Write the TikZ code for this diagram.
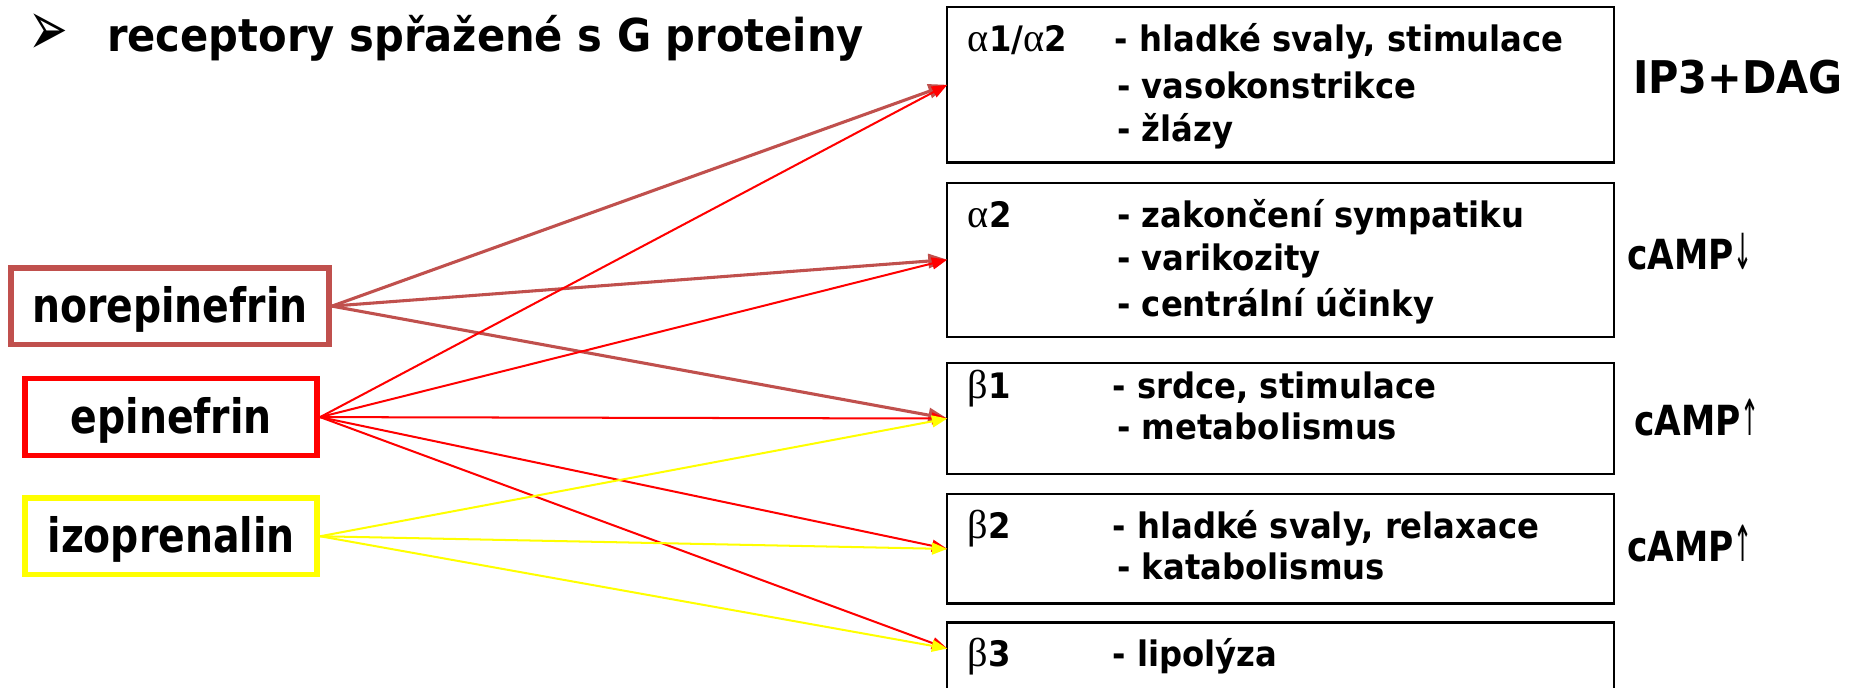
\documentclass[tikz,border=0pt]{standalone}
\usepackage{fontspec}
\usepackage{graphicx}
\usetikzlibrary{arrows.meta}
\setmainfont{DejaVu Sans}[FakeStretch=0.92]
\newfontfamily\lblfont{DejaVu Sans}[FakeStretch=0.83]
\newfontfamily\grfont{Liberation Serif}
\newfontfamily\symfont{DejaVu Sans}
\definecolor{noreC}{HTML}{C0504D}
\definecolor{epiC}{HTML}{FF0000}
\definecolor{izoC}{HTML}{FFFF00}
% Greek receptor letters in a serif face
\newcommand\gk[1]{{\grfont\mdseries\fontsize{17}{19}\selectfont #1}}
% slim arrow after cAMP
\newcommand\thinarr[1]{\scalebox{0.55}[1.2]{\symfont\mdseries #1}}
\tikzset{
  drug/.style={draw, line width=2.4pt, fill=white, inner sep=0pt,
    minimum height=32.3pt, text height=14pt, text depth=0pt,
    font=\lblfont\bfseries\fontsize{20}{24}\selectfont},
  rbox/.style={draw=black, line width=0.9pt, inner sep=0pt, outer sep=0pt,
    minimum width=281pt},
  txt/.style={anchor=base west, inner sep=0pt,
    font=\bfseries\fontsize{14.8}{17}\selectfont},
  msg/.style={anchor=base west, inner sep=0pt,
    font=\lblfont\bfseries\fontsize{17.5}{20}\selectfont},
  noreL/.style={draw=noreC, line width=1.3pt, -{Triangle[length=8pt,width=6pt]}},
  epiL/.style={draw=epiC, line width=0.85pt, -{Triangle[length=6.5pt,width=5pt]}},
  izoL/.style={draw=izoC, line width=0.85pt, -{Triangle[length=6.5pt,width=5pt]}},
}
\begin{document}
\begin{tikzpicture}[x=0.5pt,y=-0.5pt]
\useasboundingbox (0,0) rectangle (1568,580);

% heading
\node[anchor=west, inner sep=0pt, font=\symfont\fontsize{20}{22}\selectfont] (bul) at (24,29) {\scalebox{1}[1.65]{➢}};
\node[anchor=base west, inner sep=0pt, font=\bfseries\fontsize{19.1}{22}\selectfont] (title) at (90,43.6) {receptory spřažené s G proteiny};

% agonists
\node[drug, draw=noreC, minimum width=134.3pt] (nor) at (143.3,258.2) {norepinefrin};
\node[drug, draw=epiC, minimum width=123.2pt, minimum height=32.45pt] (epi) at (144.4,351.8) {epinefrin};
\node[drug, draw=izoC, minimum width=123.2pt] (izo) at (144.4,452.3) {izoprenalin};

% receptor boxes
\node[rbox, minimum height=65.5pt] (b1) at (1080,71.5) {};
\node[rbox, minimum height=65pt] (b2) at (1080,219) {};
\node[rbox, minimum height=47pt] (b3) at (1080,353) {};
\node[rbox, minimum height=46pt] (b4) at (1080,463) {};
\node[rbox, minimum height=37.5pt] (b5) at (1080,562.5) {};
\coordinate (b5in) at (799,547);

% alpha1/alpha2
\node[txt] (b1l) at (816,43.6) {\gk{α}1/\gk{α}2};
\node[txt] (b1a) at (940,43.6) {- hladké svaly, stimulace};
\node[txt] (b1b) at (942,82.7) {- vasokonstrikce};
\node[txt] (b1c) at (942,119.5) {- žlázy};
% alpha2
\node[txt] (b2l) at (816,192) {\gk{α}2};
\node[txt] (b2a) at (942,192) {- zakončení sympatiku};
\node[txt] (b2b) at (942,228) {- varikozity};
\node[txt] (b2c) at (942,267) {- centrální účinky};
% beta1
\node[txt] (b3l) at (816,336) {\gk{β}1};
\node[txt] (b3a) at (938,336) {- srdce, stimulace};
\node[txt] (b3b) at (942,371) {- metabolismus};
% beta2
\node[txt] (b4l) at (816,454) {\gk{β}2};
\node[txt] (b4a) at (938,454) {- hladké svaly, relaxace};
\node[txt] (b4b) at (942,489) {- katabolismus};
% beta3
\node[txt] (b5l) at (816,562) {\gk{β}3};
\node[txt] (b5a) at (938,562) {- lipolýza};

% second messengers
\node[msg, font=\bfseries\fontsize{19}{22}\selectfont] (m1) at (1377,78.7) {IP3+DAG};
\node[msg] (m2) at (1372,227.7) {cAMP\thinarr{↓}};
\node[msg] (m3) at (1378,367) {cAMP\thinarr{↑}};
\node[msg] (m4) at (1372,474) {cAMP\thinarr{↑}};

% connections
\draw[noreL] (nor.east) -- (b1.west);
\draw[noreL] (nor.east) -- (b2.west);
\draw[noreL] (nor.east) -- (b3.west);
\draw[epiL] (epi.east) -- (b1.west);
\draw[epiL] (epi.east) -- (b2.west);
\draw[epiL] (epi.east) -- (b3.west);
\draw[epiL] (epi.east) -- (b4.west);
\draw[epiL] (epi.east) -- (b5in);
\draw[izoL] (izo.east) -- (b3.west);
\draw[izoL] (izo.east) -- (b4.west);
\draw[izoL] (izo.east) -- (b5in);
\end{tikzpicture}
\end{document}
